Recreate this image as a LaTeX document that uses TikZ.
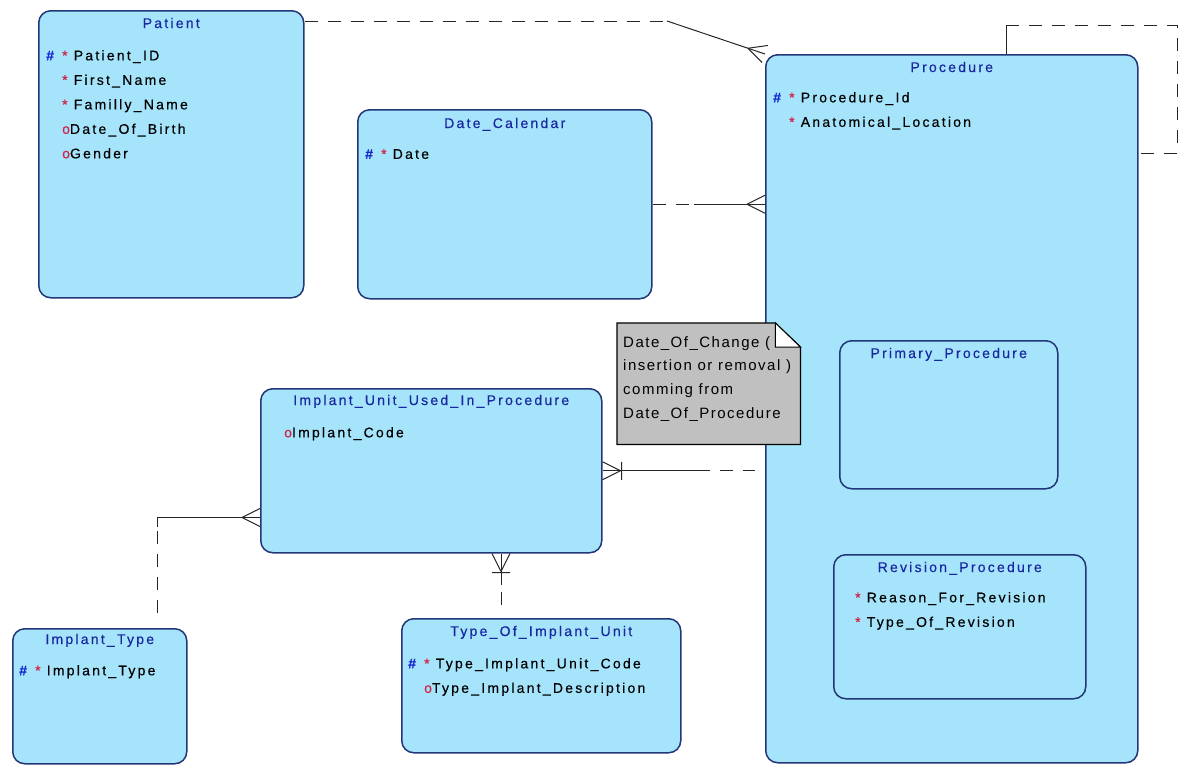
\documentclass[tikz,border=0pt]{standalone}
\usepackage{fontspec}
\setmainfont{Liberation Sans}
\newfontfamily\erfont[LetterSpace=16, FakeBold=0.35]{Liberation Sans}
\newfontfamily\notefont[LetterSpace=10]{Liberation Sans}
\usetikzlibrary{positioning, calc}

\definecolor{entfill}{RGB}{166,228,251}
\definecolor{entline}{RGB}{35,55,120}
\definecolor{entname}{RGB}{25,40,160}
\definecolor{pkblue}{RGB}{20,40,210}
\definecolor{attred}{RGB}{210,30,70}
\definecolor{notefill}{RGB}{192,192,192}

\newcommand{\pk}{\makebox[16pt][l]{\textcolor{pkblue}{\textbf{\#}}}}
\newcommand{\nopk}{\hspace*{16pt}}
\newcommand{\mand}{\textcolor{attred}{*}\ }
\newcommand{\opt}{\textcolor{attred}{o}}

\begin{document}
\begin{tikzpicture}[
        x=1pt, y=-1pt,
        entity/.style = {draw=entline, fill=entfill, line width=1.5pt, rounded corners=12pt, anchor=north west, inner sep=0pt},
        ename/.style = {anchor=base, inner sep=0pt, text=entname, font=\erfont\fontsize{14}{17}\selectfont},
        attrs/.style = {anchor=north west, inner sep=0pt, align=left, font=\erfont\fontsize{14}{24.5}\selectfont},
        notebox/.style = {anchor=north west, inner sep=0pt, minimum width=183pt, minimum height=121pt},
        notetext/.style = {anchor=north west, inner sep=0pt, align=left, font=\notefont\fontsize{15}{23.7}\selectfont},
        rel/.style = {line width=1pt, black!85},
        opt/.style = {rel, dash pattern=on 13pt off 10pt},
        crowend/.style = {pos=1, sloped, allow upside down},
        crow/.pic = {\draw[rel] (-18,0) -- (0,-9) (-18,0) -- (0,9);},
        crowbar/.pic = {\draw[rel] (-18,0) -- (0,-9) (-18,0) -- (0,9) (-19,-9) -- (-19,9);},
    ]
    \useasboundingbox (0,0) rectangle (1181,766);

    % entities
    \node[entity, minimum width=265pt, minimum height=287pt] (patient) at (38,10) {};
    \node[ename] (patientN) at ($(patient.north)+(0,18)$) {Patient};
    \node[attrs] (patientA) at ($(patient.north west)+(8,40)$) {\pk\mand Patient\_ID\\ \nopk\mand First\_Name\\ \nopk\mand Familly\_Name\\ \nopk\opt Date\_Of\_Birth\\ \nopk\opt Gender};

    \node[entity, minimum width=294pt, minimum height=189pt] (datecal) at (357,109) {};
    \node[ename] (datecalN) at ($(datecal.north)+(0,19)$) {Date\_Calendar};
    \node[attrs] (datecalA) at ($(datecal.north west)+(8,40)$) {\pk\mand Date};

    \node[entity, minimum width=372pt, minimum height=708pt] (proc) at (765,54) {};
    \node[ename] (procN) at ($(proc.north)+(0,18)$) {Procedure};
    \node[attrs] (procA) at ($(proc.north west)+(8,38)$) {\pk\mand Procedure\_Id\\ \nopk\mand Anatomical\_Location};

    \node[entity, minimum width=218pt, minimum height=148pt] (primary) at (839,340) {};
    \node[ename] (primaryN) at ($(primary.north)+(0,18)$) {Primary\_Procedure};

    \node[entity, minimum width=252pt, minimum height=144pt] (revision) at (833,554) {};
    \node[ename] (revisionN) at ($(revision.north)+(0,18)$) {Revision\_Procedure};
    \node[attrs] (revisionA) at ($(revision.north west)+(6,38)$) {\nopk\mand Reason\_For\_Revision\\ \nopk\mand Type\_Of\_Revision};

    \node[entity, minimum width=341pt, minimum height=164pt] (iuuip) at (260,388) {};
    \node[ename] (iuuipN) at ($(iuuip.north)+(0,17)$) {Implant\_Unit\_Used\_In\_Procedure};
    \node[attrs] (iuuipA) at ($(iuuip.north west)+(8,39)$) {\nopk\opt Implant\_Code};

    \node[entity, minimum width=174pt, minimum height=135pt] (itype) at (12,628) {};
    \node[ename] (itypeN) at ($(itype.north)+(0,16)$) {Implant\_Type};
    \node[attrs] (itypeA) at ($(itype.north west)+(7,37)$) {\pk\mand Implant\_Type};

    \node[entity, minimum width=279pt, minimum height=134pt] (toiu) at (401,618) {};
    \node[ename] (toiuN) at ($(toiu.north)+(0,18)$) {Type\_Of\_Implant\_Unit};
    \node[attrs] (toiuA) at ($(toiu.north west)+(7,40)$) {\pk\mand Type\_Implant\_Unit\_Code\\ \nopk\opt Type\_Implant\_Description};

    % note
    \node[notebox] (note) at (617,323) {};
    \filldraw[fill=notefill, draw=black, line width=1.2pt] (note.north west) -- ($(note.north east)+(-25,0)$) -- ($(note.north east)+(0,24)$) -- (note.south east) -- (note.south west) -- cycle;
    \filldraw[fill=white, draw=black, line width=1pt] ($(note.north east)+(-25,0)$) -- ($(note.north east)+(-25,24)$) -- ($(note.north east)+(0,24)$) -- cycle;
    \node[notetext] (noteT) at ($(note.north west)+(6,13)$) {Date\_Of\_Change (\\insertion or removal )\\comming from\\Date\_Of\_Procedure};

    % relationships
    \coordinate (b1) at (667,21);
    \draw[opt] (patient.east |- b1) -- (b1);
    \draw[rel] (b1) -- (proc.north west) pic[crowend]{crow};

    \coordinate (m2) at ($(datecal.east)+(41,0)$);
    \draw[opt] (datecal.east) -- (m2);
    \draw[rel] (m2) -- (proc.west |- m2) pic[crowend]{crow};

    \coordinate (s1) at (1006,25);
    \coordinate (s2) at (1177,153);
    \draw[rel] (proc.north -| s1) -- (s1);
    \draw[opt] (s1) -| (s2) -- (proc.east |- s2);

    \coordinate (m4) at ($(iuuip.east)+(94,0)$);
    \draw[opt, shorten >=10pt] (m4) -- (proc.west |- m4);
    \draw[rel] (m4) -- (iuuip.east) pic[crowend]{crowbar};

    \coordinate (m5) at (157,527);
    \draw[opt, shorten <=15pt] (itype.north -| m5) -- (m5);
    \draw[rel] (m5) |- ($(iuuip.south west)+(0,-36)$) pic[crowend]{crow};

    \coordinate (m6) at (501,585);
    \draw[opt, shorten <=13pt] (toiu.north -| m6) -- (m6);
    \draw[rel] (m6) -- (iuuip.south -| m6) pic[crowend]{crowbar};
\end{tikzpicture}
\end{document}
